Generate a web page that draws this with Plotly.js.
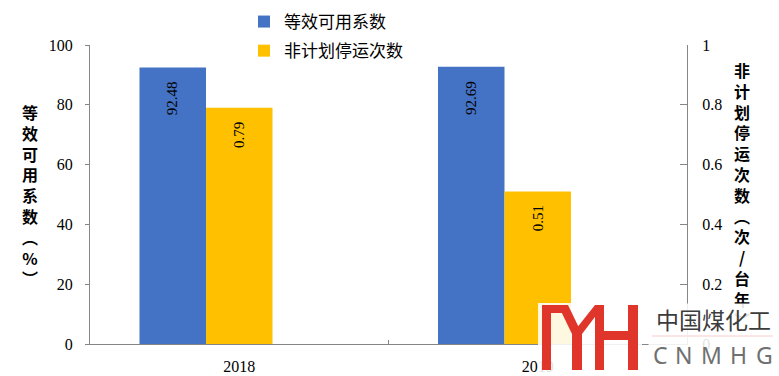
<!DOCTYPE html>
<html>
<head>
<meta charset="utf-8">
<script src="https://cdn.plot.ly/plotly-3.0.1.min.js"></script>
<style>html,body{margin:0;padding:0;background:#fff;}#chart{width:779px;height:376px;}</style>
</head>
<body>
<div id="chart"></div>
<script>
// ---- data ----
const categories = ['2018', '2019'];
const availability = [92.48, 92.69];      // 等效可用系数 (%)
const outages = [0.79, 0.51];             // 非计划停运次数 (次/台年)
const leftTickVals = [0, 20, 40, 60, 80, 100];
const rightTickVals = [0, 0.2, 0.4, 0.6, 0.8, 1];
const rightTickText = ['0', '0.2', '0.4', '0.6', '0.8', '1'];
const seriesNames = ['等效可用系数', '非计划停运次数'];
const leftTitleChars = ['等', '效', '可', '用', '系', '数', '︵', '%', '︶'];
const rightTitleChars = ['非', '计', '划', '停', '运', '次', '数', '︵', '次', '/', '台', '年', '︶'];

// ---- style ----
const W = 779, H = 376, M = {l: 90, r: 92, t: 45, b: 32, autoexpand: false};
const PW = W - M.l - M.r, PH = H - M.t - M.b;
const px = v => (v - M.l) / PW;
const py = v => (H - M.b - v) / PH;
const barW = 0.2228;
const offBlue = -1.5 * barW, offYellow = -0.5 * barW;
const serif = 'Liberation Serif, Times New Roman, serif';
const cjk = 'Noto Sans CJK SC, sans-serif';
const axisCol = '#868686';

const traces = [
  {type: 'bar', name: seriesNames[0], x: categories, y: availability, yaxis: 'y',
   width: barW, offset: offBlue, marker: {color: '#4472C4'}, legendgroup: 'a', hoverinfo: 'none'},
  {type: 'bar', name: seriesNames[1], x: categories, y: outages, yaxis: 'y2',
   width: barW, offset: offYellow, marker: {color: '#FFC000'}, legendgroup: 'b', hoverinfo: 'none'}
];

const annotations = [];
categories.forEach((c, i) => {
  annotations.push({x: i + offBlue + barW / 2, y: availability[i], xref: 'x', yref: 'y',
    text: availability[i].toFixed(2), showarrow: false, textangle: -90, xanchor: 'center', yanchor: 'top', yshift: -12,
    font: {family: serif, size: 15, color: '#000'}});
  annotations.push({x: i + offYellow + barW / 2, y: outages[i], xref: 'x', yref: 'y2',
    text: outages[i].toFixed(2), showarrow: false, textangle: -90, xanchor: 'center', yanchor: 'top', yshift: -12,
    font: {family: serif, size: 15, color: '#000'}});
});
annotations.push({x: px(30), y: 0.5, xref: 'paper', yref: 'paper', showarrow: false, xanchor: 'center', yanchor: 'middle',
  text: leftTitleChars.join('<br>'), font: {family: cjk, size: 16, color: '#000', weight: 'bold'}});
annotations.push({x: px(741.5), y: 0.5, xref: 'paper', yref: 'paper', showarrow: false, xanchor: 'center', yanchor: 'middle',
  text: rightTitleChars.join('<br>'), font: {family: cjk, size: 16, color: '#000', weight: 'bold'}});

// watermark backing + text
annotations.push({x: px(648), y: py(303), xref: 'paper', yref: 'paper', xanchor: 'left', yanchor: 'top',
  text: ' ', showarrow: false, width: 131, height: 70, bgcolor: 'rgba(255,255,255,0.88)'});
annotations.push({x: px(713), y: py(319), xref: 'paper', yref: 'paper', showarrow: false, xanchor: 'center', yanchor: 'middle',
  text: '中国煤化工', font: {family: cjk, size: 23, color: '#3c3c3c'}});
const wmLetters = ['C', 'N', 'M', 'H', 'G'];
const wmX = [660, 683, 711, 738, 764];
wmLetters.forEach((l, i) => annotations.push({x: px(wmX[i]), y: py(355), xref: 'paper', yref: 'paper',
  showarrow: false, xanchor: 'center', yanchor: 'middle', text: l,
  font: {family: 'Noto Sans, sans-serif', size: 23, color: '#707070'}}));

const red = '#E0352B';
const rect = (x0, y0, x1, y1, col) => ({type: 'rect', xref: 'paper', yref: 'paper', layer: 'above',
  x0: px(x0), x1: px(x1), y0: py(y0), y1: py(y1), fillcolor: col, line: {width: 0}});
const poly = (pts, col) => ({type: 'path', xref: 'paper', yref: 'paper', layer: 'above',
  path: 'M' + pts.map(p => px(p[0]) + ',' + py(p[1])).join('L') + 'Z', fillcolor: col, line: {width: 0}});
const shapes = [
  rect(538, 303, 642, 373, 'rgba(255,255,255,0.88)'),
  rect(542, 305, 551, 370, red),
  rect(542, 305, 568, 313, red),
  poly([[558, 305], [568, 305], [582, 334], [572, 334]], red),
  poly([[595, 305], [604, 305], [582, 334], [572, 334]], red),
  rect(572, 333, 582, 370, red),
  rect(595, 305, 604, 370, red),
  rect(628, 305, 638, 370, red),
  rect(604, 331, 628, 340, red),
  {type: 'line', xref: 'paper', yref: 'paper', layer: 'above', x0: px(652), x1: px(773), y0: py(336), y1: py(336),
   line: {color: red, width: 2}}
];

const layout = {
  width: W, height: H, margin: M, paper_bgcolor: '#fff', plot_bgcolor: '#fff',
  barmode: 'overlay', showlegend: true,
  legend: {x: px(244), y: 1 + (45 - 4) / PH, xanchor: 'left', yanchor: 'top', traceorder: 'grouped',
    tracegroupgap: 4, font: {family: cjk, size: 17, color: '#000'}, bgcolor: 'rgba(0,0,0,0)', itemwidth: 30},
  xaxis: {type: 'category', range: [-0.5, 1.5], showline: true, linecolor: axisCol, linewidth: 1,
    ticks: 'inside', tickson: 'boundaries', ticklen: 4, tickcolor: axisCol, showgrid: false, ticklabelstandoff: 8,
    tickfont: {family: serif, size: 16, color: '#000'}, fixedrange: true},
  yaxis: {range: [0, 100], tickvals: leftTickVals, showline: true, linecolor: axisCol, ticks: 'outside',
    ticklen: 4, tickcolor: axisCol, showgrid: false, zeroline: false, ticklabelstandoff: 9,
    tickfont: {family: serif, size: 16, color: '#000'}, fixedrange: true},
  yaxis2: {range: [0, 1], overlaying: 'y', side: 'right', tickvals: rightTickVals, ticktext: rightTickText,
    showline: true, linecolor: axisCol, ticks: 'inside', ticklen: 7, tickcolor: axisCol, showgrid: false,
    zeroline: false, ticklabelstandoff: 11, tickfont: {family: serif, size: 16, color: '#000'}, fixedrange: true},
  annotations: annotations, shapes: shapes
};

Plotly.newPlot('chart', traces, layout, {displayModeBar: false, staticPlot: true});
</script>
</body>
</html>
